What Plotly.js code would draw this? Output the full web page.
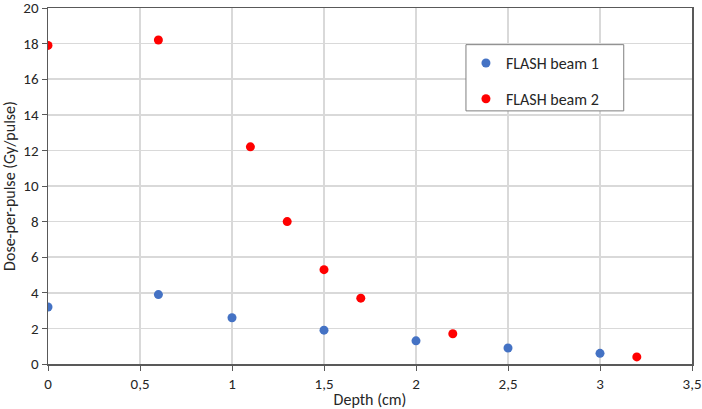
<!DOCTYPE html>
<html>
<head>
<meta charset="utf-8">
<script src="https://cdn.plot.ly/plotly-3.0.1.min.js"></script>
<style>
  html, body { margin: 0; padding: 0; background: #fff; }
  #chart { width: 702px; height: 409px; }
</style>
</head>
<body>
<div id="chart"></div>
<script>
// depth (cm) and dose-per-pulse (Gy/pulse)
const beam1Depth = [0, 0.6, 1, 1.5, 2, 2.5, 3]
const beam1Dose = [3.2, 3.9, 2.6, 1.9, 1.3, 0.9, 0.6]

const beam2Depth = [0, 0.6, 1.1, 1.3, 1.5, 1.7, 2.2, 3.2]
const beam2Dose = [17.9, 18.2, 12.2, 8.0, 5.3, 3.7, 1.7, 0.4]

const font = "Carlito, Lato, 'Liberation Sans', sans-serif"

const data = [
  {
    x: beam1Depth,
    y: beam1Dose,
    name: "FLASH beam 1",
    type: "scatter",
    mode: "markers",
    marker: { color: "#4472C4", size: 9 },
    legendgroup: "b1",
  },
  {
    x: beam2Depth,
    y: beam2Dose,
    name: "FLASH beam 2",
    type: "scatter",
    mode: "markers",
    marker: { color: "#FF0000", size: 9 },
    legendgroup: "b2",
  },
]

const axisCommon = {
  showline: true,
  linecolor: "#595959",
  linewidth: 1.5,
  mirror: true,
  showgrid: true,
  gridcolor: "#d9d9d9",
  gridwidth: 1.5,
  zeroline: false,
  ticks: "outside",
  ticklen: 5,
  tickcolor: "#595959",
  ticklabeloverflow: "allow",
  tickfont: { family: font, size: 15, color: "#262626" },
}

const layout = {
  width: 702,
  height: 409,
  margin: { l: 48, r: 10, t: 8, b: 45 },
  paper_bgcolor: "#fff",
  plot_bgcolor: "#fff",
  separators: ",.",
  font: { family: font, color: "#262626" },
  xaxis: {
    ...axisCommon,
    range: [0, 3.5],
    dtick: 0.5,
    tick0: 0,
    title: { text: "Depth (cm)", font: { family: font, size: 16 }, standoff: 6 },
  },
  yaxis: {
    ...axisCommon,
    range: [0, 20],
    dtick: 2,
    tick0: 0,
    title: { text: "Dose-per-pulse (Gy/pulse)", font: { family: font, size: 16 }, standoff: 6 },
  },
  showlegend: true,
  legend: {
    x: 0.649,
    y: 0.893,
    xanchor: "left",
    yanchor: "top",
    bgcolor: "rgba(0,0,0,0)",
    borderwidth: 0,
    tracegroupgap: 12,
    font: { family: font, size: 16, color: "#262626" },
  },
  shapes: [
    {
      type: "rect",
      xref: "paper",
      yref: "paper",
      x0: 0.649,
      x1: 0.894,
      y0: 0.711,
      y1: 0.897,
      line: { color: "#7f7f7f", width: 1 },
      fillcolor: "#fff",
      layer: "above",
    },
  ],
}

Plotly.newPlot("chart", data, layout, { displayModeBar: false, staticPlot: true })
</script>
</body>
</html>
